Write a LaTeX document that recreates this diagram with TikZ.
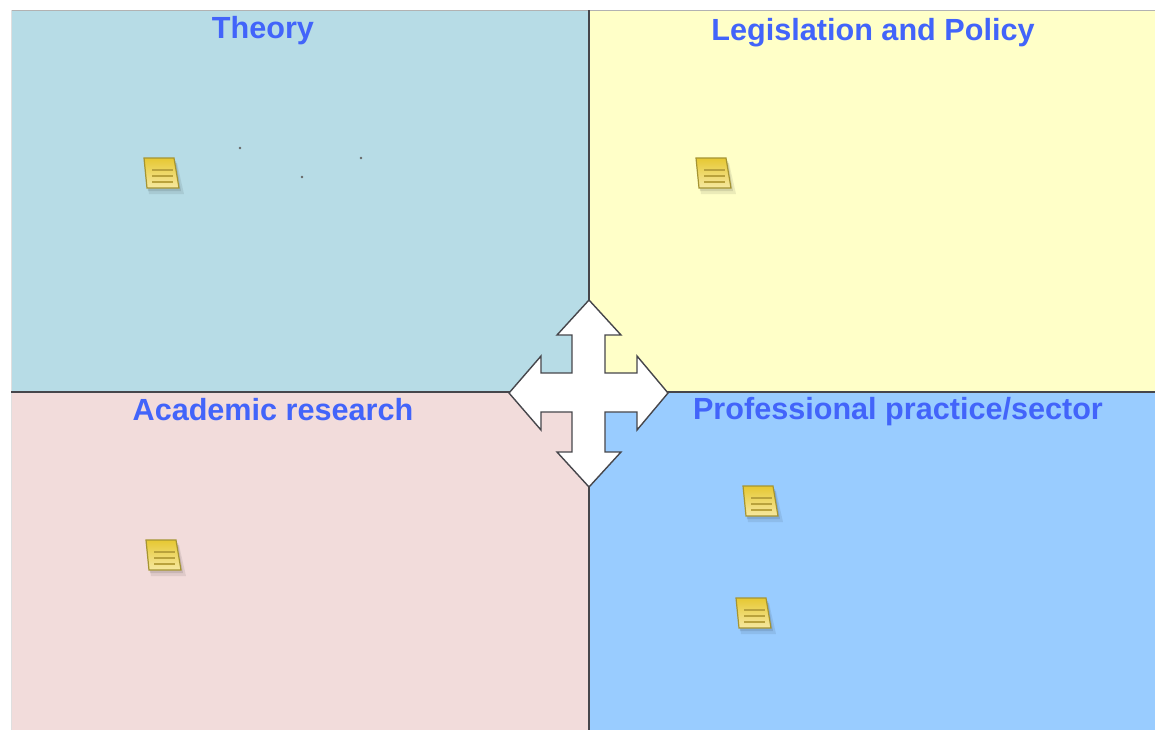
\documentclass[tikz,border=0pt]{standalone}
\usepackage{fontspec}
\setmainfont{Liberation Sans}
\usetikzlibrary{shadings}
\definecolor{theorybg}{RGB}{183,220,230}
\definecolor{legisbg}{RGB}{255,255,200}
\definecolor{acadbg}{RGB}{242,220,219}
\definecolor{profbg}{RGB}{153,204,255}
\definecolor{titleblue}{RGB}{66,100,250}
\definecolor{edgegray}{RGB}{70,70,75}
\definecolor{notetop}{RGB}{230,200,50}
\definecolor{notebot}{RGB}{246,232,160}
\definecolor{noteedge}{RGB}{165,148,50}
\definecolor{noteline}{RGB}{185,162,60}
\tikzset{
  paneltitle/.style={text=titleblue, font=\fontsize{15.3}{18}\selectfont\bfseries, anchor=base, inner sep=0pt},
  divider/.style={draw=edgegray, line width=0.6pt},
  pics/sticky/.style={code={
    \fill[black, opacity=0.08] (1,5) -- (33,5) -- (40,36) -- (5,36) -- cycle;
    \fill[black, opacity=0.10] (2,3) -- (32,3) -- (37,33) -- (4,33) -- cycle;
    \shade[top color=notetop, bottom color=notebot, draw=noteedge, line width=0.6pt]
      (0,0) -- (30,0) -- (35,30) -- (3,30) -- cycle;
    \foreach \yy in {12,18,24}{
      \draw[noteline, line width=1.1pt] (8,\yy) -- (29,\yy);
    }
  }}
}
\begin{document}
\begin{tikzpicture}[x=0.5pt, y=-0.5pt]
\useasboundingbox (0,0) rectangle (1155,730);
\fill[white] (0,0) rectangle (1155,730);
% panels
\fill[theorybg] (11,10) rectangle (589,392);
\fill[legisbg] (589,10) rectangle (1155,392);
\fill[acadbg] (11,392) rectangle (589,730);
\fill[profbg] (589,392) rectangle (1155,730);
\draw[gray!60, line width=0.5pt] (11,10) -- (1155,10);
\draw[gray!25, line width=0.4pt] (11,10) -- (11,730);
\draw[divider] (589,10) -- (589,730);
\draw[divider] (11,392) -- (1155,392);
% titles
\node[paneltitle] (theory) at (263,38) {Theory};
\node[paneltitle] (legis) at (873,40) {Legislation and Policy};
\node[paneltitle] (acad) at (273,420) {Academic research};
\node[paneltitle] (prof) at (898,419) {Professional practice/sector};
% dots
\fill[gray!80!black] (240,148) circle (1.3);
\fill[gray!80!black] (302,177) circle (1.3);
\fill[gray!80!black] (361,158) circle (1.3);
% sticky notes
\pic at (144,158) {sticky};
\pic at (696,158) {sticky};
\pic at (146,540) {sticky};
\pic at (743,486) {sticky};
\pic at (736,598) {sticky};
% four-way arrow
\draw[fill=white, draw=edgegray, line width=0.7pt, line join=miter]
  (589,300) -- (621,335) -- (605,335) -- (605,373) -- (637,373) -- (637,356)
  -- (668,393) -- (637,430) -- (637,412) -- (605,412) -- (605,452) -- (621,452)
  -- (589,487) -- (557,452) -- (572,452) -- (572,412) -- (541,412) -- (541,430)
  -- (509,393) -- (541,356) -- (541,373) -- (572,373) -- (572,335) -- (557,335) -- cycle;
\end{tikzpicture}
\end{document}
